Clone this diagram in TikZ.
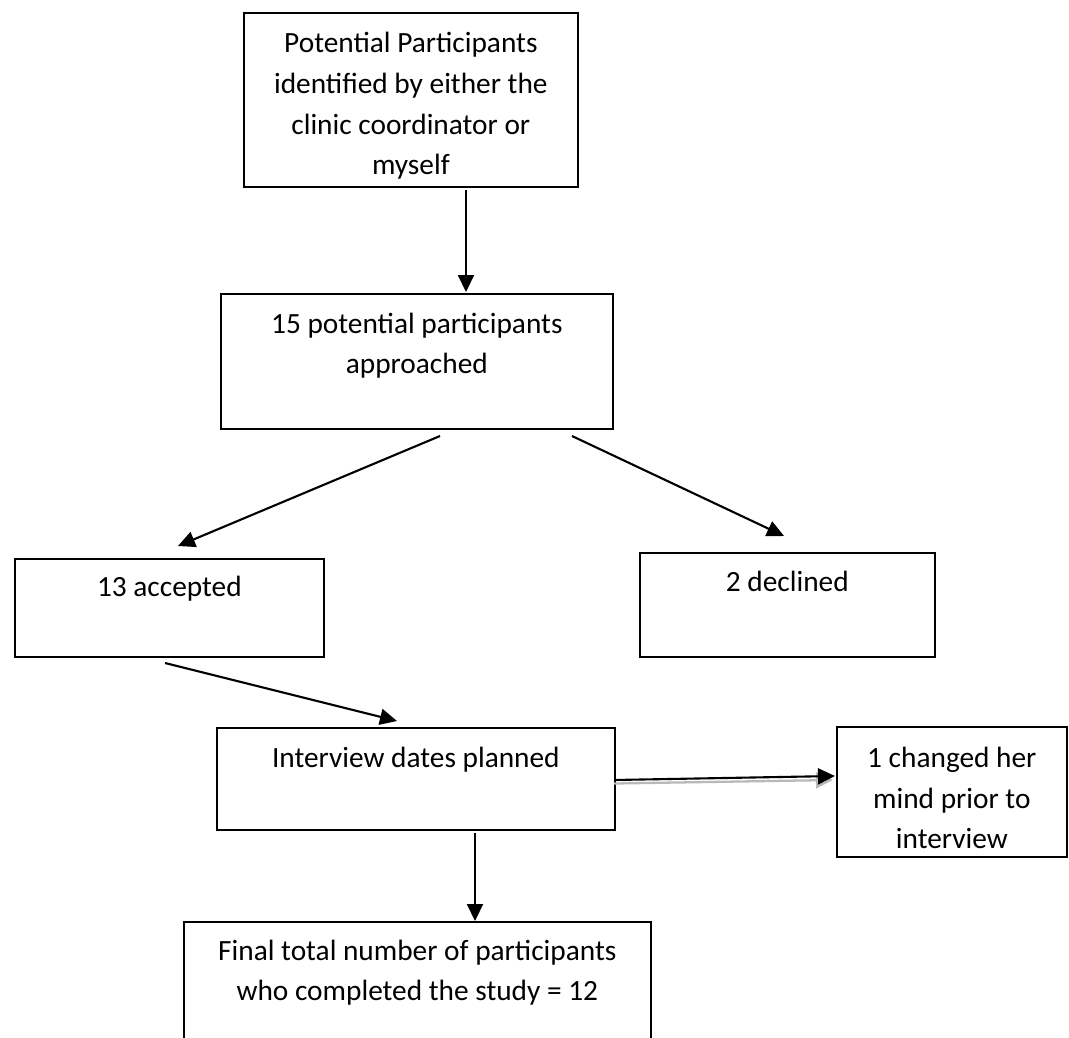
\documentclass[tikz,border=0pt]{standalone}
\usepackage{fontspec}
\setmainfont{Carlito}
\usetikzlibrary{arrows.meta}

\begin{document}
\begin{tikzpicture}[x=0.02cm,y=-0.02cm,
    box/.style={draw,line width=1pt,anchor=north west,inner sep=0pt},
    txt/.style={anchor=base,align=center,inner sep=0pt,font=\fontsize{16.7}{23.3}\selectfont},
    arr/.style={-{Triangle[length=0.34cm,width=0.32cm]},line width=1.2pt}]
    \useasboundingbox (0,0) rectangle (1069,1038);
    %boxes
    \node[box,minimum width=6.68cm,minimum height=3.48cm] (pool) at (243,12) {};
    \node[box,minimum width=7.84cm,minimum height=2.70cm] (approach) at (220,293) {};
    \node[box,minimum width=6.18cm,minimum height=1.96cm] (accept) at (14,558) {};
    \node[box,minimum width=5.90cm,minimum height=2.08cm] (decline) at (639,552) {};
    \node[box,minimum width=7.96cm,minimum height=2.04cm] (dates) at (216,727) {};
    \node[box,minimum width=4.60cm,minimum height=2.60cm] (changed) at (836,726) {};
    \node[box,minimum width=9.34cm,minimum height=2.78cm] (final) at (183,921) {};
    %texts (base = last line)
    \node[txt] (pooltext) at ([yshift=-3.26cm]pool.north) {Potential Participants\\identified by either the\\clinic coordinator or\\myself};
    \node[txt] (approachtext) at ([yshift=-1.62cm]approach.north) {15 potential participants\\approached};
    \node[txt] (accepttext) at ([yshift=-0.78cm]accept.north) {13 accepted};
    \node[txt] (declinetext) at ([yshift=-0.78cm]decline.north) {2 declined};
    \node[txt] (datestext) at ([yshift=-0.8cm]dates.north) {Interview dates planned};
    \node[txt] (changedtext) at ([yshift=-2.46cm]changed.north) {1 changed her\\mind prior to\\interview};
    \node[txt] (finaltext) at ([yshift=-1.6cm]final.north) {Final total number of participants\\who completed the study = 12};
    %arrow ends
    \coordinate (a1) at (466,190);  \coordinate (b1) at (466,292);
    \coordinate (a2) at (440,436);  \coordinate (b2) at (178,546);
    \coordinate (a3) at (572,436);  \coordinate (b3) at (784,536);
    \coordinate (a4) at (165,663);  \coordinate (b4) at (397,721);
    \coordinate (a5) at (614,780);  \coordinate (b5) at (835,776);
    \coordinate (a6) at (475,833);  \coordinate (b6) at (475,921);
    \draw[arr] (a1) -- (b1);
    \draw[arr] (a2) -- (b2);
    \draw[arr] (a3) -- (b3);
    \draw[arr] (a4) -- (b4);
    \draw[arr,gray!55,line width=1.3pt] ([yshift=-0.07cm]a5) -- ([xshift=-0.04cm,yshift=-0.08cm]b5);
    \draw[arr] (a5) -- (b5);
    \draw[arr] (a6) -- (b6);
\end{tikzpicture}
\end{document}
